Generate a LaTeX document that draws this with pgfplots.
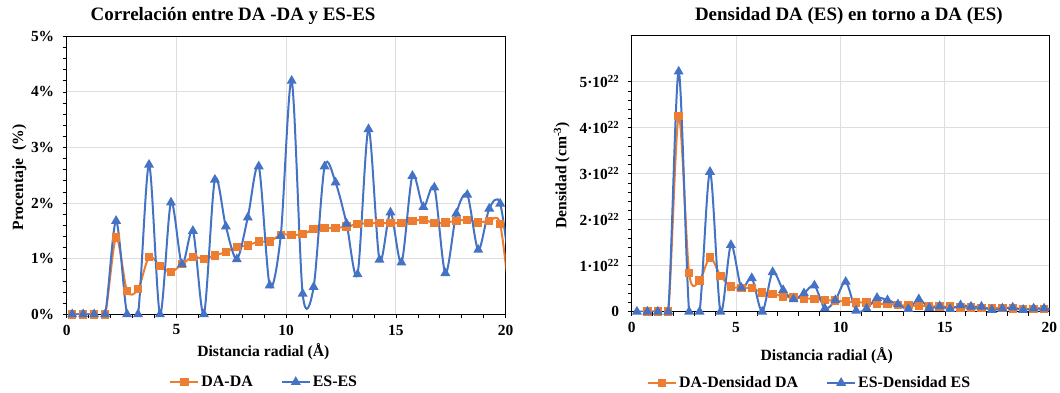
\documentclass[border=0pt]{standalone}
\usepackage{fontspec}
\setmainfont{Liberation Serif}
\usepackage{pgfplots}
\pgfplotsset{compat=1.18}
\definecolor{exorange}{HTML}{ED7D31}
\definecolor{exblue}{HTML}{4472C4}

\pgfplotsset{
  every axis title/.style={anchor=center},
  excel/.style={
    scale only axis,
    anchor=south west,
    xmin=0, xmax=20,
    xtick={0,5,10,15,20},
    xticklabels={0,5,10,15,20},
    minor x tick num=4,
    tick align=outside,
    tick pos=left,
    major tick length=4bp,
    minor tick length=4bp,
    grid=major,
    major grid style={line width=1bp, color=black!13},
    axis line style={line width=1.1bp, black},
    every tick/.style={black, line width=0.8bp},
    tick label style={font=\bfseries\fontsize{15.5}{15.5}\selectfont},
    xticklabel style={yshift=-3bp},
    yticklabel style={xshift=-5bp},
    label style={font=\bfseries\fontsize{15.7}{16}\selectfont},
    title style={font=\bfseries\fontsize{19}{19}\selectfont},
    legend style={draw=none, fill=none, anchor=center,
      font=\bfseries\fontsize{16}{16}\selectfont,
      /tikz/every even column/.append style={column sep=26bp}},
    legend columns=2,
    legend cell align=left,
    legend image code/.code={
      \draw[mark repeat=2, mark phase=2] plot coordinates {(0bp,0bp) (14bp,0bp) (28bp,0bp)};},
  },
  orangeser/.style={color=exorange, line width=2bp, smooth, mark=square*, mark size=3.2bp, mark options={solid}},
  blueser/.style={color=exblue, line width=2bp, smooth, mark=triangle*, mark size=3.8bp, mark options={solid}},
}

% radial pair correlation, in percent
\pgfplotstableread{
r     p
0.25  0
0.75  0
1.25  0
1.75  0
2.25  1.38
2.75  0.42
3.25  0.45
3.75  1.03
4.25  0.87
4.75  0.76
5.25  0.90
5.75  1.03
6.25  1.00
6.75  1.06
7.25  1.12
7.75  1.21
8.25  1.24
8.75  1.31
9.25  1.31
9.75  1.43
10.25 1.43
10.75 1.44
11.25 1.53
11.75 1.55
12.25 1.55
12.75 1.58
13.25 1.62
13.75 1.64
14.25 1.64
14.75 1.64
15.25 1.64
15.75 1.68
16.25 1.70
16.75 1.64
17.25 1.65
17.75 1.68
18.25 1.70
18.75 1.65
19.25 1.68
19.75 1.62
20.25 0.00
}\dada

\pgfplotstableread{
r     p
0.25  0
0.75  0
1.25  0
1.75  0
2.25  1.68
2.75  0
3.25  0
3.75  2.69
4.25  0
4.75  2.01
5.25  0.90
5.75  1.50
6.25  0
6.75  2.42
7.25  1.58
7.75  0.99
8.25  1.74
8.75  2.66
9.25  0.52
9.75  1.41
10.25 4.20
10.75 0.37
11.25 0.49
11.75 2.66
12.25 2.37
12.75 1.63
13.25 0.72
13.75 3.33
14.25 0.98
14.75 1.83
15.25 0.93
15.75 2.49
16.25 1.93
16.75 2.28
17.25 0.74
17.75 1.81
18.25 2.15
18.75 1.16
19.25 1.90
19.75 1.99
20.25 0.60
}\eses

% number density around each site, in units of 1e22 cm^-3
\pgfplotstableread{
r     d
0.75  0
1.25  0
1.75  0
2.25  4.25
2.75  0.84
3.25  0.68
3.75  1.18
4.25  0.78
4.75  0.55
5.25  0.52
5.75  0.51
6.25  0.42
6.75  0.39
7.25  0.33
7.75  0.31
8.25  0.29
8.75  0.28
9.25  0.25
9.75  0.24
10.25 0.22
10.75 0.20
11.25 0.20
11.75 0.17
12.25 0.17
12.75 0.14
13.25 0.14
13.75 0.12
14.25 0.12
14.75 0.11
15.25 0.11
15.75 0.09
16.25 0.09
16.75 0.08
17.25 0.08
17.75 0.08
18.25 0.07
18.75 0.06
19.25 0.06
19.75 0.06
20.25 0.05
}\denda

\pgfplotstableread{
r     d
0.25  0
0.75  0
1.25  0
1.75  0
2.25  5.22
2.75  0
3.25  0
3.75  3.04
4.25  0
4.75  1.45
5.25  0.52
5.75  0.73
6.25  0
6.75  0.86
7.25  0.47
7.75  0.27
8.25  0.40
8.75  0.57
9.25  0.07
9.75  0.25
10.25 0.65
10.75 0.02
11.25 0.07
11.75 0.30
12.25 0.25
12.75 0.16
13.25 0.06
13.75 0.27
14.25 0.08
14.75 0.12
15.25 0.06
15.75 0.14
16.25 0.11
16.75 0.11
17.25 0.04
17.75 0.07
18.25 0.09
18.75 0.04
19.25 0.07
19.75 0.07
20.25 0.06
}\denes

\begin{document}
\begin{tikzpicture}[x=1bp, y=1bp]
\useasboundingbox (0,0) rectangle (1060bp,393bp);

\begin{axis}[excel,
  at={(66.7bp,78.7bp)}, width=439bp, height=278bp,
  ymin=0, ymax=5,
  ytick={0,1,2,3,4,5},
  yticklabels={0\%,1\%,2\%,3\%,4\%,5\%},
  minor y tick num=4,
  title={Correlación entre DA -DA y ES-ES},
  title style={at={(axis description cs:0.379,1.072)}},
  xlabel={Distancia radial (Å)},
  xlabel style={at={(axis description cs:0.448,-0.1356)}, anchor=center},
  ylabel={Procentaje\ \ (\%)},
  ylabel style={at={(axis description cs:-0.1077,0.492)}, anchor=center, rotate=0},
  legend style={at={(axis description cs:0.45,-0.2435)}},
]
\addplot[orangeser] table[x=r, y=p] {\dada};
\addlegendentry{DA-DA}
\addplot[blueser] table[x=r, y=p] {\eses};
\addlegendentry{ES-ES}
\end{axis}

\begin{axis}[excel,
  at={(631.7bp,81.3bp)}, width=417.6bp, height=276bp,
  ymin=0, ymax=6,
  ytick={0,1,2,3,4,5},
  yticklabels={0,1·10\textsuperscript{22},2·10\textsuperscript{22},3·10\textsuperscript{22},4·10\textsuperscript{22},5·10\textsuperscript{22}},
  minor y tick num=4,
  title={Densidad DA (ES) en torno a DA (ES)},
  title style={at={(axis description cs:0.52,1.0705)}},
  xlabel={Distancia radial (Å)},
  xlabel style={at={(axis description cs:0.467,-0.16)}, anchor=center},
  ylabel={Densidad (cm\textsuperscript{-3})},
  ylabel style={at={(axis description cs:-0.1675,0.494)}, anchor=center, rotate=0},
  legend style={at={(axis description cs:0.426,-0.258)}},
]
\addplot[orangeser] table[x=r, y=d] {\denda};
\addlegendentry{DA-Densidad DA}
\addplot[blueser] table[x=r, y=d] {\denes};
\addlegendentry{ES-Densidad ES}
\end{axis}
\end{tikzpicture}
\end{document}
